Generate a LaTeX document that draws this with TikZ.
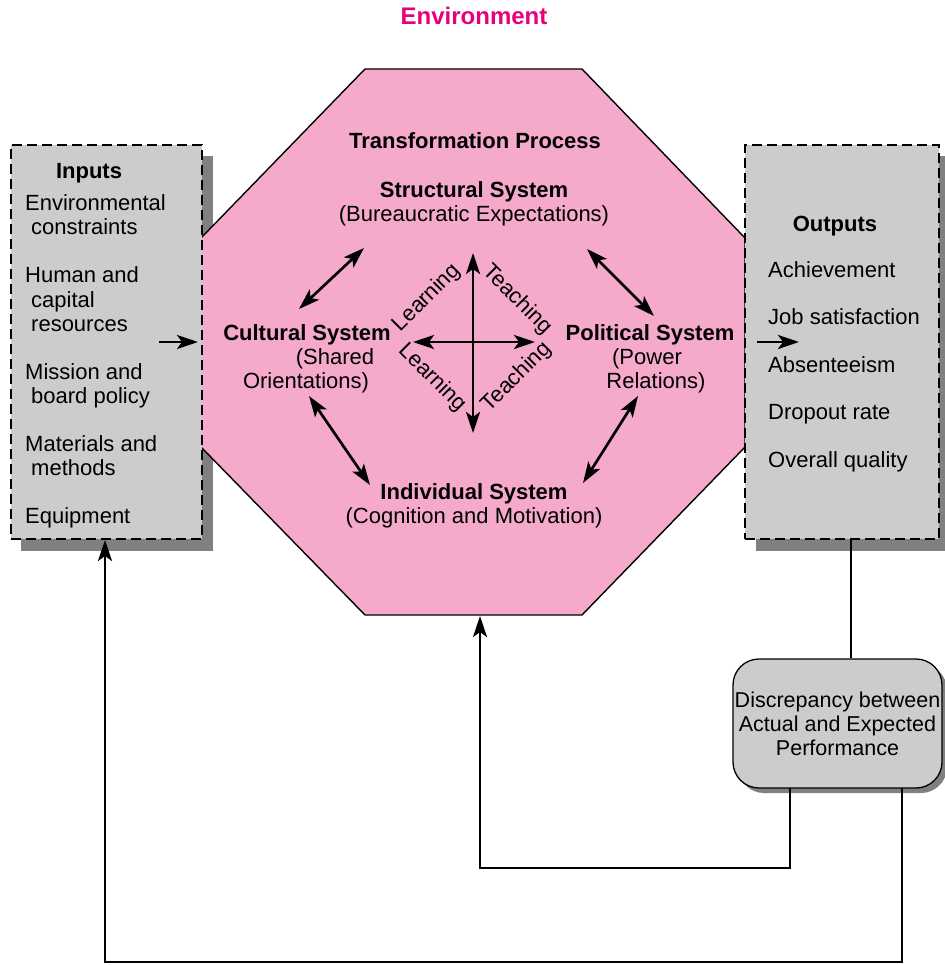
\documentclass[tikz,border=0pt]{standalone}
\usepackage{fontspec}
\setmainfont{Liberation Sans}
\usetikzlibrary{arrows.meta}
\definecolor{envmagenta}{RGB}{230,0,126}
\definecolor{procpink}{RGB}{245,170,204}
\definecolor{boxgray}{RGB}{204,204,204}
\definecolor{shadowgray}{RGB}{128,128,128}

\begin{document}
\begin{tikzpicture}[x=1pt,y=-1pt,
  lbl/.style={font=\fontsize{22}{24}\selectfont, inner sep=0pt, anchor=base},
  lblL/.style={lbl, anchor=base west},
  hd/.style={lbl, font=\fontsize{22}{24}\selectfont\bfseries},
  diag/.style={font=\fontsize{22}{24}\selectfont, inner sep=0pt},
  conn/.style={line width=2.7pt, draw=black},
  arr/.style={conn, -{Stealth[length=21pt,width=14pt,inset=5pt]}},
  dbl/.style={conn, {Stealth[length=21pt,width=14pt,inset=5pt]}-{Stealth[length=21pt,width=14pt,inset=5pt]}},
  dashbox/.style={rectangle, draw=black, fill=boxgray, line width=1.3pt,
    dash pattern=on 10pt off 5pt, inner sep=0pt},
  solidbox/.style={rectangle, draw=black, fill=boxgray, line width=1.3pt,
    rounded corners=26pt, inner sep=0pt},
  shade/.style={rectangle, fill=shadowgray, draw=none, inner sep=0pt},
]
\useasboundingbox (0,0) rectangle (944,965);

% title
\node[font=\fontsize{24}{26}\selectfont\bfseries, text=envmagenta, inner sep=0pt, anchor=base]
  (env) at (474,25) {Environment};

% drop shadows of the two side boxes
\node[shade, minimum width=192pt, minimum height=395pt] (inshadow) at (117,353.5) {};
\node[shade, minimum width=194pt, minimum height=395pt] (outshadow) at (853,353.5) {};

% transformation process octagon
\filldraw[fill=procpink, draw=black, line width=1.4pt]
  (365,69) -- (582,69) -- (745,238) -- (745,447) -- (582,615) -- (365,615)
  -- (201,447) -- (201,238) -- cycle;
\coordinate (octbot) at (480,616);

% input and output boxes
\node[dashbox, minimum width=191pt, minimum height=394pt] (inbox) at (106.5,342) {};
\node[dashbox, minimum width=194pt, minimum height=394pt] (outbox) at (842,342) {};

% discrepancy box
\node[solidbox, draw=none, fill=shadowgray, minimum width=209pt, minimum height=129pt]
  (discshadow) at (842.5,728.5) {};
\node[solidbox, minimum width=209pt, minimum height=129pt, align=center,
  font=\fontsize{21.5}{24}\selectfont] (disc) at (837.5,723.5)
  {Discrepancy between\\Actual and Expected\\Performance};

% inputs list
\node[hd] (inhd) at (89,179) {Inputs};
\node[lblL] (in1) at (25,211) {Environmental};
\node[lblL] (in1b) at (31,235) {constraints};
\node[lblL] (in2) at (25,283) {Human and};
\node[lblL] (in2b) at (31,307) {capital};
\node[lblL] (in2c) at (31,331) {resources};
\node[lblL] (in3) at (25,379) {Mission and};
\node[lblL] (in3b) at (31,403) {board policy};
\node[lblL] (in4) at (25,451) {Materials and};
\node[lblL] (in4b) at (31,475) {methods};
\node[lblL] (in5) at (25,523) {Equipment};

% outputs list
\node[hd] (outhd) at (835,232) {Outputs};
\node[lblL] (out1) at (768,277) {Achievement};
\node[lblL] (out2) at (768,324.5) {Job satisfaction};
\node[lblL] (out3) at (768,372) {Absenteeism};
\node[lblL] (out4) at (768,419.5) {Dropout rate};
\node[lblL] (out5) at (768,467) {Overall quality};

% subsystems inside the process
\node[hd] (tp) at (475,149) {Transformation Process};
\node[hd] (struct) at (474,198) {Structural System};
\node[lbl] (structb) at (474,222) {(Bureaucratic Expectations)};
\node[hd] (cult) at (307,340) {Cultural System};
\node[lbl] (cultb) at (335,364) {(Shared};
\node[lbl] (cultc) at (306,388) {Orientations)};
\node[hd] (pol) at (650,340) {Political System};
\node[lbl] (polb) at (647,364) {(Power};
\node[lbl] (polc) at (656,388) {Relations)};
\node[hd] (indiv) at (474,499) {Individual System};
\node[lbl] (indivb) at (474,523) {(Cognition and Motivation)};

% arrows between subsystems
\coordinate (sc1) at (364,248);  \coordinate (sc2) at (299,309);
\coordinate (sp1) at (587,249);  \coordinate (sp2) at (654,316);
\coordinate (ci1) at (309,396);  \coordinate (ci2) at (370,485);
\coordinate (pi1) at (638,396);  \coordinate (pi2) at (583,483);
\draw[dbl] (sc1) -- (sc2);
\draw[dbl] (sp1) -- (sp2);
\draw[dbl] (ci1) -- (ci2);
\draw[dbl] (pi1) -- (pi2);

% central cross
\coordinate (vtop) at (473,253);  \coordinate (vbot) at (473,433);
\coordinate (hleft) at (413,342); \coordinate (hright) at (535,342);
\draw[dbl] (vtop) -- (vbot);
\draw[dbl] (hleft) -- (hright);
\node[diag, rotate=45]  (learn1) at (427,298) {Learning};
\node[diag, rotate=-45] (teach1) at (517,300) {Teaching};
\node[diag, rotate=-45] (learn2) at (432,378) {Learning};
\node[diag, rotate=45]  (teach2) at (517,377) {Teaching};

% flow in and out of the process
\coordinate (inA) at (159,342);  \coordinate (inB) at (198,342);
\coordinate (outA) at (757,342); \coordinate (outB) at (799,342);
\draw[arr] (inA) -- (inB);
\draw[arr] (outA) -- (outB);

% feedback loop
\coordinate (outlow) at (851,539);
\draw[line width=1.3pt] (outlow) -- (outlow |- disc.north);
\coordinate (fb1) at (790,788);
\coordinate (fb2) at (902,788);
\coordinate (inbot) at (105,540);
\draw[arr] (fb1) |- (480,868) -- (octbot);
\draw[arr] (fb2) |- (105,962) -- (inbot);
\end{tikzpicture}
\end{document}
